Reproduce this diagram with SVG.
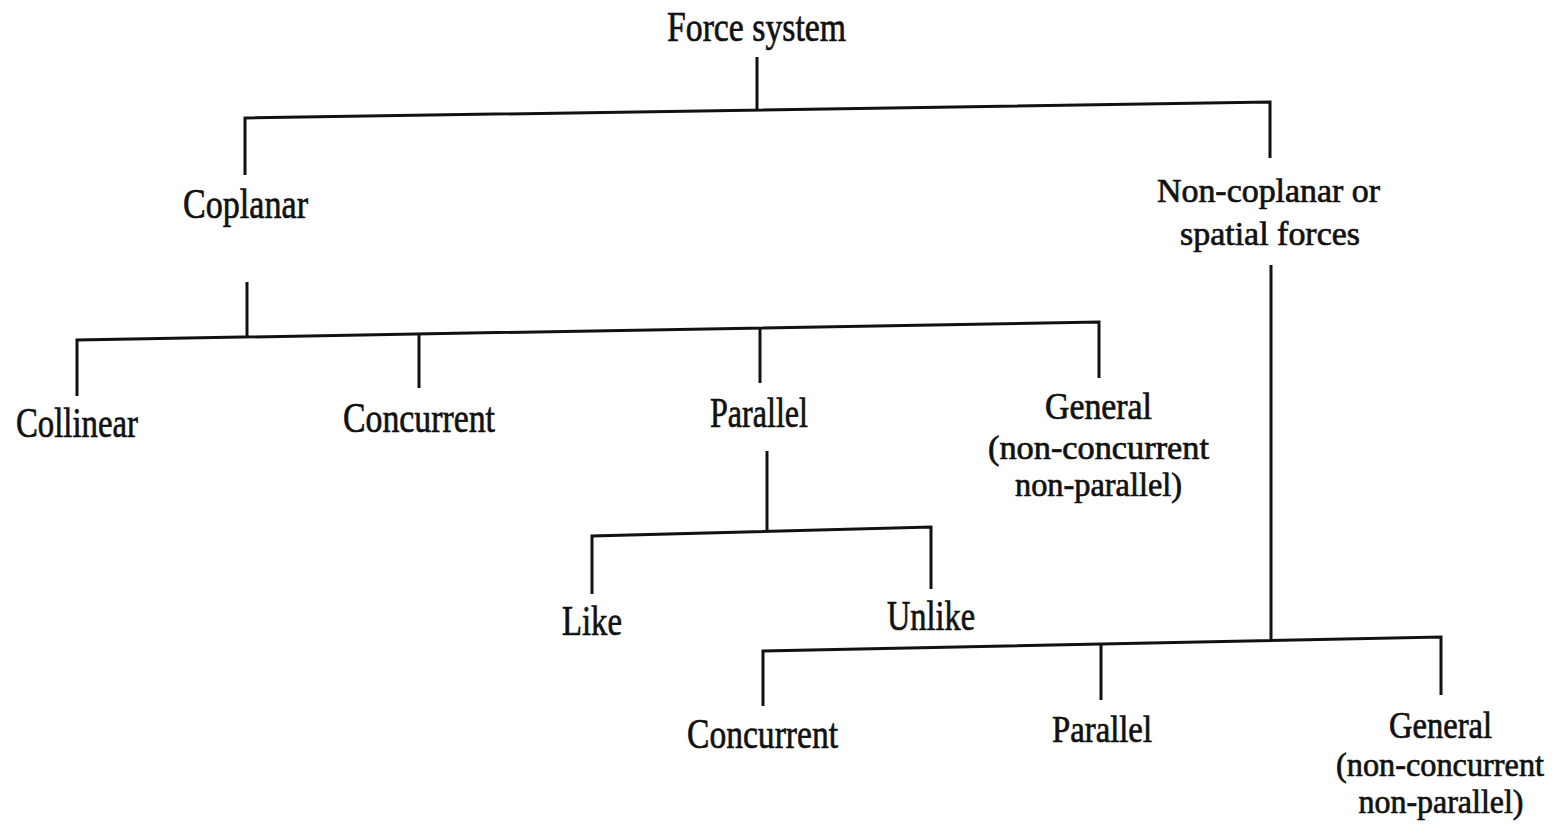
<svg xmlns="http://www.w3.org/2000/svg" width="1557" height="835" viewBox="0 0 1557 835">
<style>
.bg{fill:#ffffff}
.c path{fill:none;stroke:#111;stroke-width:3;stroke-linecap:butt;stroke-linejoin:miter}
text{font-family:"Liberation Serif","Times New Roman",serif;fill:#111;stroke:#111;stroke-width:0.7;text-anchor:middle}
.l{font-size:43px}
.m{font-size:37px}
.n{font-size:34px}
.s{font-size:34px}
</style>
<rect class="bg" x="0" y="0" width="1557" height="835"/>
<g id="connectors" class="c">
<path d="M757 57 V110"/>
<path d="M245 175 V118 L1270 102 V158"/>
<path d="M1271 265 V641"/>
<path d="M247 282 V337"/>
<path d="M77 396 V340 L1099 322 V378"/>
<path d="M419 334 V388"/>
<path d="M760 328 V383"/>
<path d="M767 451 V531"/>
<path d="M592 594 V536 L931 527 V589"/>
<path d="M763 706 V651 L1441 637 V695"/>
<path d="M1101 644 V700"/>
</g>
<g id="force-system"><text class="l" x="756.5" y="41" textLength="179" lengthAdjust="spacingAndGlyphs">Force system</text></g>
<g id="coplanar"><text class="l" x="245.5" y="218" textLength="125" lengthAdjust="spacingAndGlyphs">Coplanar</text></g>
<g id="non-coplanar">
<text class="s" x="1268.5" y="202" textLength="223" lengthAdjust="spacingAndGlyphs">Non-coplanar or</text>
<text class="s" x="1270" y="245" textLength="180" lengthAdjust="spacingAndGlyphs">spatial forces</text>
</g>
<g id="collinear"><text class="l" x="77" y="437" textLength="122" lengthAdjust="spacingAndGlyphs">Collinear</text></g>
<g id="concurrent-1"><text class="l" x="419" y="432" textLength="152" lengthAdjust="spacingAndGlyphs">Concurrent</text></g>
<g id="parallel-1"><text class="l" x="759" y="427" textLength="98" lengthAdjust="spacingAndGlyphs">Parallel</text></g>
<g id="general-1">
<text class="m" x="1098.5" y="419" textLength="107" lengthAdjust="spacingAndGlyphs">General</text>
<text class="n" x="1098.5" y="459" textLength="221" lengthAdjust="spacingAndGlyphs">(non-concurrent</text>
<text class="n" x="1098.5" y="496" textLength="167" lengthAdjust="spacingAndGlyphs">non-parallel)</text>
</g>
<g id="like"><text class="l" x="592" y="635" textLength="60" lengthAdjust="spacingAndGlyphs">Like</text></g>
<g id="unlike"><text class="l" x="931" y="630" textLength="88" lengthAdjust="spacingAndGlyphs">Unlike</text></g>
<g id="concurrent-2"><text class="l" x="762.5" y="748" textLength="151" lengthAdjust="spacingAndGlyphs">Concurrent</text></g>
<g id="parallel-2"><text class="m" x="1102" y="742" textLength="100" lengthAdjust="spacingAndGlyphs">Parallel</text></g>
<g id="general-2">
<text class="m" x="1440.5" y="738" textLength="103" lengthAdjust="spacingAndGlyphs">General</text>
<text class="n" x="1440" y="776" textLength="208" lengthAdjust="spacingAndGlyphs">(non-concurrent</text>
<text class="n" x="1441" y="813" textLength="165" lengthAdjust="spacingAndGlyphs">non-parallel)</text>
</g>
</svg>
